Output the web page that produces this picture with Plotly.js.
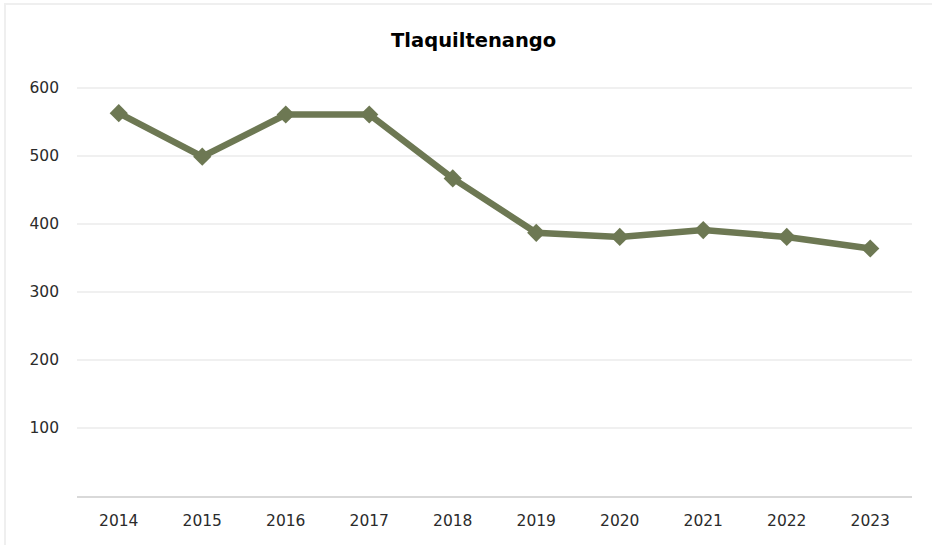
<!DOCTYPE html>
<html>
<head>
<meta charset="utf-8">
<script src="https://cdn.plot.ly/plotly-3.0.1.min.js"></script>
<style>
html,body{margin:0;padding:0;background:#fff;}
#frame{position:absolute;left:4px;top:3px;width:960px;height:600px;border:2px solid #efefef;box-sizing:border-box;}
#chart{position:absolute;left:0;top:0;width:932px;height:545px;}
</style>
</head>
<body>
<div id="frame"></div>
<div id="chart"></div>
<script>
const years = ['2014','2015','2016','2017','2018','2019','2020','2021','2022','2023'];
const values = [563, 499, 561, 561, 467, 387, 381, 391, 381, 364];
const yTicks = [100, 200, 300, 400, 500, 600];
const chartTitle = 'Tlaquiltenango';

const trace = {
  x: years, y: values, type: 'scatter', mode: 'lines+markers',
  line: {color: '#6D7853', width: 6.5},
  marker: {symbol: 'diamond', size: 14, color: '#6D7853'},
  hoverinfo: 'x+y'
};
const tickFont = {family: 'DejaVu Sans, sans-serif', size: 15.5, color: '#2b2b2b'};
const layout = {
  width: 932, height: 545,
  paper_bgcolor: 'rgba(0,0,0,0)', plot_bgcolor: 'rgba(0,0,0,0)',
  margin: {l: 77, r: 20, t: 54, b: 49},
  showlegend: false,
  title: {text: '<b>' + chartTitle + '</b>', x: 0.475, xref: 'paper', y: 0.926, yref: 'container', xanchor: 'center', yanchor: 'middle',
          font: {family: 'DejaVu Sans, sans-serif', size: 19.5, color: '#000'}},
  xaxis: {type: 'category', range: [-0.5, 9.5], showgrid: false, showline: true, linecolor: '#d9d9d9', linewidth: 2,
          ticks: '', tickfont: tickFont, ticklabelstandoff: 9},
  yaxis: {range: [0, 650], tickvals: yTicks, showgrid: true, gridcolor: '#f0f0f0', gridwidth: 1.5,
          zeroline: false, showline: false, ticks: '', tickfont: tickFont,
          ticklabelstandoff: 17}
};
Plotly.newPlot('chart', [trace], layout, {displayModeBar: false, staticPlot: true});
</script>
</body>
</html>
